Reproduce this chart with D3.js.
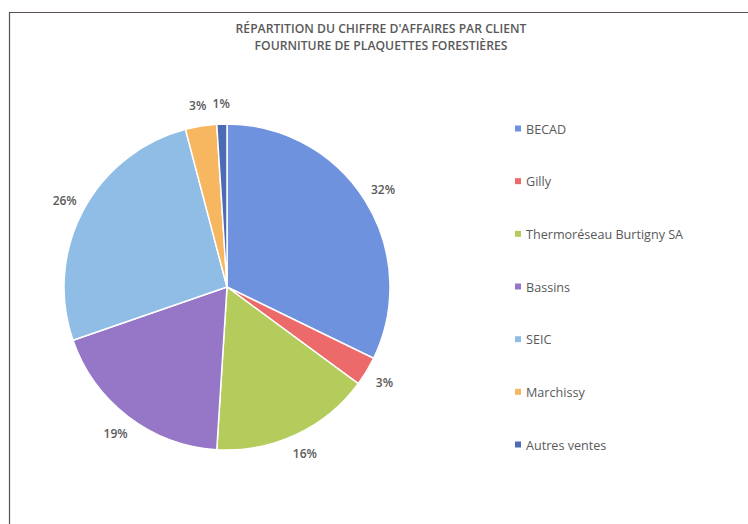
<!DOCTYPE html>
<html>
<head>
<meta charset="utf-8">
<script src="https://cdn.jsdelivr.net/npm/d3@7"></script>
<style>
  body { margin: 0; background: #fff; }
  text { font-family: "Open Sans", "DejaVu Sans", sans-serif; }
</style>
</head>
<body>
<div id="chart"></div>
<script>
// ---------------- data ----------------
var clients = ["BECAD", "Gilly", "Thermoréseau Burtigny SA", "Bassins", "SEIC", "Marchissy", "Autres ventes"];
var shares  = [32.2, 2.9, 15.9, 18.7, 26.2, 3.1, 1.0];
var colors  = ["#6e92de", "#ec6a6a", "#b4cc5c", "#9676c6", "#90bde6", "#f7b660", "#4b6cb4"];
var titleLines = ["RÉPARTITION DU CHIFFRE D'AFFAIRES PAR CLIENT", "FOURNITURE DE PLAQUETTES FORESTIÈRES"];

// ---------------- layout ----------------
var W = 748, H = 524;
var cx = 227, cy = 287, r = 163;
var textCol = "#595959";

var svg = d3.select("#chart").append("svg")
  .attr("width", W).attr("height", H);

// chart frame (top and left edges visible in the scan)
svg.append("path")
  .attr("d", "M9.5," + H + " V12.5 H" + W)
  .attr("fill", "none")
  .attr("stroke", "#5a504c")
  .attr("stroke-width", 1.2);

// title
svg.append("g").selectAll("text")
  .data(titleLines).enter()
  .append("text")
  .attr("x", 381)
  .attr("y", function(d, i){ return 33 + i * 17; })
  .attr("text-anchor", "middle")
  .attr("font-size", "12.2px")
  .attr("font-weight", "600")
  .attr("fill", textCol)
  .text(function(d){ return d; });

// pie
var total = d3.sum(shares);
var pie = d3.pie().sort(null).value(function(d){ return d; });
var arcs = pie(shares);
var arc = d3.arc().innerRadius(0).outerRadius(r);

var g = svg.append("g").attr("transform", "translate(" + cx + "," + cy + ")");

g.selectAll("path.slice")
  .data(arcs).enter()
  .append("path")
  .attr("class", "slice")
  .attr("d", arc)
  .attr("fill", function(d, i){ return colors[i]; })
  .attr("stroke", "#fff")
  .attr("stroke-width", 1.5);

// outside-end labels
var labelR = 184;
g.selectAll("text.lbl")
  .data(arcs).enter()
  .append("text")
  .attr("class", "lbl")
  .attr("x", function(d){ var a = (d.startAngle + d.endAngle) / 2; return labelR * Math.sin(a); })
  .attr("y", function(d){ var a = (d.startAngle + d.endAngle) / 2; return -labelR * Math.cos(a); })
  .attr("text-anchor", "middle")
  .attr("dominant-baseline", "central")
  .attr("font-size", "12px")
  .attr("font-weight", "600")
  .attr("fill", textCol)
  .text(function(d){ return Math.round(d.value / total * 100) + "%"; });

// legend
var ly = d3.scalePoint().domain(clients).range([129, 445]);
var leg = svg.append("g").selectAll("g")
  .data(clients).enter()
  .append("g")
  .attr("transform", function(d){ return "translate(515," + ly(d) + ")"; });

leg.append("rect")
  .attr("x", 0).attr("y", -3.5)
  .attr("width", 6).attr("height", 6)
  .attr("fill", function(d, i){ return colors[i]; });

leg.append("text")
  .attr("x", 11)
  .attr("y", 0)
  .attr("dominant-baseline", "central")
  .attr("font-size", "12.6px")
  .attr("fill", textCol)
  .text(function(d){ return d; });
</script>
</body>
</html>
